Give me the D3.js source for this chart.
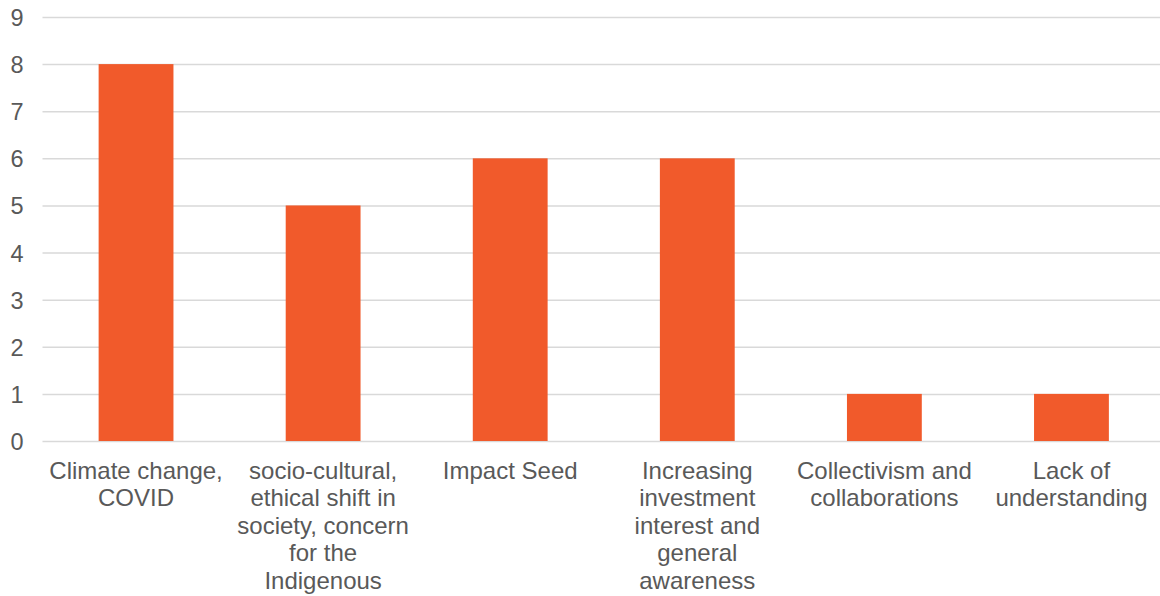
<!DOCTYPE html>
<html>
<head>
<meta charset="utf-8">
<script src="https://cdn.jsdelivr.net/npm/d3@7"></script>
<style>
  html, body { margin: 0; padding: 0; background: #ffffff; overflow: hidden; }
  svg { display: block; }
</style>
</head>
<body>
<svg id="chart" width="1160" height="596"></svg>
<script>
// Drivers of interest, count of mentions
const categories = [
  "Climate change, COVID",
  "socio-cultural, ethical shift in society, concern for the Indigenous",
  "Impact Seed",
  "Increasing investment interest and general awareness",
  "Collectivism and collaborations",
  "Lack of understanding"
];
const counts = [8, 5, 6, 6, 1, 1];
const yTicks = [0, 1, 2, 3, 4, 5, 6, 7, 8, 9];

const W = 1160, H = 596;
const margin = { left: 42.5, right: -5, top: 17, bottom: 155 };
const fontFamily = "'Liberation Sans', Arial, sans-serif";
const textColor = "#595959";

const svg = d3.select("#chart");

const x = d3.scaleBand()
  .domain(categories)
  .range([margin.left, W - margin.right])
  .paddingInner(0.6)
  .paddingOuter(0.3);

const y = d3.scaleLinear()
  .domain([0, 9])
  .range([H - margin.bottom, margin.top]);

// horizontal gridlines + value labels
const yAxis = d3.axisLeft(y)
  .tickValues(yTicks)
  .tickSize(-(W - margin.right - margin.left))
  .tickPadding(19)
  .tickFormat(d3.format("d"));

const gy = svg.append("g")
  .attr("transform", `translate(${margin.left},0)`)
  .call(yAxis);
gy.select(".domain").remove();
gy.selectAll(".tick line")
  .attr("stroke", "#d9d9d9")
  .attr("stroke-width", 1.5);
gy.selectAll(".tick text")
  .attr("fill", textColor)
  .attr("font-family", fontFamily)
  .attr("font-size", 23.5)
  .attr("dy", "0.36em");

// bars
svg.append("g")
  .selectAll("rect")
  .data(categories)
  .join("rect")
  .attr("x", d => x(d))
  .attr("width", x.bandwidth())
  .attr("y", (d, i) => y(counts[i]))
  .attr("height", (d, i) => y(0) - y(counts[i]))
  .attr("fill", "#f15a2b");

// category labels, wrapped to fit each band
const wrapWidth = 182;
const lineHeight = 27.5;
const labelGroup = svg.append("g")
  .attr("font-family", fontFamily)
  .attr("font-size", 24)
  .attr("fill", textColor)
  .attr("text-anchor", "middle");

categories.forEach(cat => {
  const cx = x(cat) + x.bandwidth() / 2;
  const t = labelGroup.append("text")
    .attr("x", cx)
    .attr("y", y(0) + 37.5);
  const words = cat.split(" ");
  let line = [];
  let tspan = t.append("tspan").attr("x", cx).attr("dy", 0);
  words.forEach(w => {
    line.push(w);
    tspan.text(line.join(" "));
    if (tspan.node().getComputedTextLength() > wrapWidth && line.length > 1) {
      line.pop();
      tspan.text(line.join(" "));
      line = [w];
      tspan = t.append("tspan")
        .attr("x", cx)
        .attr("dy", lineHeight)
        .text(w);
    }
  });
});
</script>
</body>
</html>
